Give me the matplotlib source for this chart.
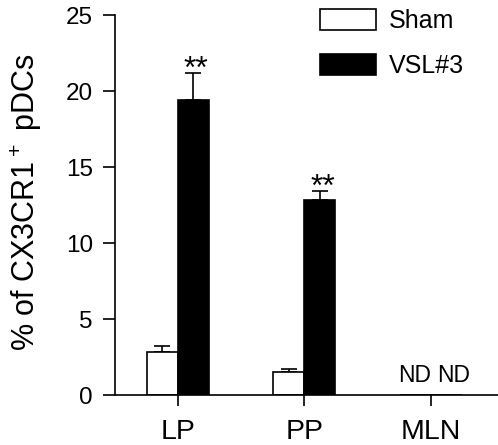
import matplotlib
matplotlib.use('Agg')
import matplotlib.pyplot as plt
import numpy as np

plt.rcParams['font.family'] = ['Liberation Sans', 'DejaVu Sans']
plt.rcParams['mathtext.fontset'] = 'custom'
plt.rcParams['mathtext.rm'] = 'Liberation Sans'

# Values
sites = ['LP', 'PP', 'MLN']
sham_mean = [2.85, 1.53, 0.0]
sham_err = [0.4, 0.2, 0.0]
vsl_mean = [19.4, 12.85, 0.0]
vsl_err = [1.8, 0.6, 0.0]
stars = ['**', '**', '']
detected = [True, True, False]

fig = plt.figure(figsize=(4.98, 4.45), dpi=100)
ax = fig.add_axes([115 / 498, 50 / 445, 383 / 498, 380 / 445])

x = np.arange(len(sites))
width = 0.245

ax.bar(x - width / 2, sham_mean, width, color='white', edgecolor='black',
       linewidth=1.2, label='Sham', zorder=2)
ax.bar(x + width / 2, vsl_mean, width, color='black', edgecolor='black',
       linewidth=1.2, label='VSL#3', zorder=2)

# Upper error bars only
for i in range(len(sites)):
    if not detected[i]:
        continue
    ax.errorbar(x[i] - width / 2, sham_mean[i], yerr=[[0], [sham_err[i]]],
                fmt='none', ecolor='black', elinewidth=1.2, capsize=5.5,
                capthick=1.2, zorder=1)
    ax.errorbar(x[i] + width / 2, vsl_mean[i], yerr=[[0], [vsl_err[i]]],
                fmt='none', ecolor='black', elinewidth=1.2, capsize=5.5,
                capthick=1.2, zorder=1)
    ax.text(x[i] + width / 2 + 0.02, vsl_mean[i] + vsl_err[i] - 0.36, stars[i],
            ha='center', va='baseline', fontsize=23)

# Not determined
for i in range(len(sites)):
    if not detected[i]:
        ax.text(x[i] - width / 2 - 0.01, 0.5, 'ND', ha='center', va='bottom',
                fontsize=16.5)
        ax.text(x[i] + width / 2 + 0.06, 0.5, 'ND', ha='center', va='bottom',
                fontsize=16.5)

ax.set_xlim(-0.498, 2.53)
ax.set_ylim(0, 25)
ax.set_xticks(x)
ax.set_xticklabels(sites, fontsize=20.5)
ax.set_yticks([0, 5, 10, 15, 20, 25])
ax.tick_params(axis='y', labelsize=17.5, length=8.5, width=1.2,
               direction='out', pad=7.5)
ax.tick_params(axis='x', length=8, width=1.2, direction='out', pad=9)
ax.set_ylabel(r'% of $\mathregular{CX3CR1^+}$ pDCs', fontsize=22)
ax.yaxis.set_label_coords(35 / 498, 1 - 202 / 445, transform=fig.transFigure)
ax.yaxis.label.set_verticalalignment('baseline')

for side in ['top', 'right']:
    ax.spines[side].set_visible(False)
for side in ['left', 'bottom']:
    ax.spines[side].set_linewidth(1.2)

leg = ax.legend(loc='upper left', bbox_to_anchor=(320 / 498, 1 - 9 / 445),
                bbox_transform=fig.transFigure, frameon=False, fontsize=18,
                handlelength=2.25, handleheight=0.88, handletextpad=0.5,
                labelspacing=0.85, borderaxespad=0, borderpad=0)

fig.savefig('out.png', dpi=100)
